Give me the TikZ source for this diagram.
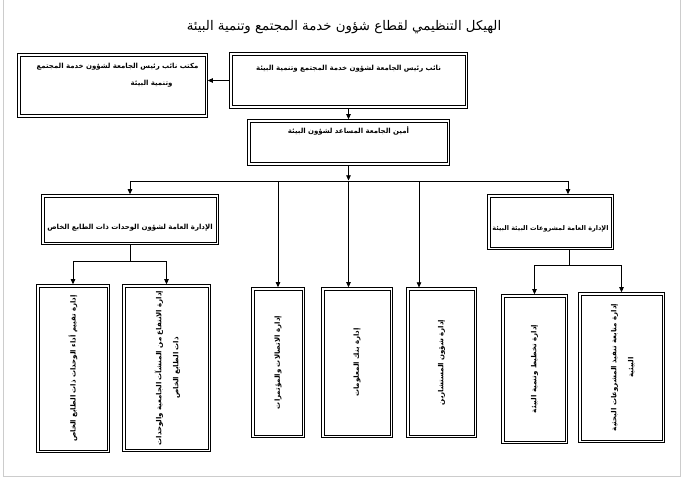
\documentclass[tikz,border=0pt]{standalone}
\usepackage{fontspec}
\usepackage{tikz}
\usetikzlibrary{arrows.meta, positioning, calc}
\newfontfamily\arabicfont[Script=Arabic]{DejaVu Sans}
\TeXXeTstate=1
\newcommand{\artext}[1]{\beginR #1\endR}

\begin{document}
\begin{tikzpicture}[
    x=1pt, y=-1pt,
    box/.style={rectangle, inner sep=0pt, align=center, font=\arabicfont\bfseries\fontsize{7}{17}\selectfont},
    outerline/.style={draw=black, line width=1.2pt},
    innerline/.style={draw=black, line width=0.6pt},
    arrow/.style={->, >={Triangle[length=5pt, width=4.5pt]}, draw=black, line width=0.6pt, shorten >=0.6pt},
    link/.style={draw=black, line width=0.6pt}
]
    \useasboundingbox (0,0) rectangle (684,478);
    \draw [black!20, line width=1pt] (3,-5) rectangle (680,476);

    % Title
    \node (title) at (344,27) {\arabicfont\fontsize{13.3}{16}\selectfont\artext{الهيكل التنظيمي لقطاع شؤون خدمة المجتمع وتنمية البيئة}};

    % Nodes
    \node (vp) [box, minimum width=237, text height=18, text depth=37, text width=230] at (348.5,80.5) {\artext{نائب رئيس الجامعة لشؤون خدمة المجتمع وتنمية البيئة}};

    \node (office) [box, minimum width=189, text height=15, text depth=48, align=right, text width=172] at (112.5,85.5) {\artext{مكتب نائب رئيس الجامعة لشؤون خدمة المجتمع}\\ \artext{وتنمية البيئة}\rule{26pt}{0pt}};

    \node (asst) [box, minimum width=201, text height=14, text depth=31, text width=195] at (348.5,142.5) {\artext{أمين الجامعة المساعد لشؤون البيئة}};

    \node (gl) [box, minimum width=176, text height=34, text depth=15, text width=170] at (130,219.5) {\artext{الإدارة العامة لشؤون الوحدات ذات الطابع الخاص}};

    \node (gr) [box, minimum width=125, minimum height=54, text height=35, text depth=19, font=\arabicfont\bfseries\fontsize{6.5}{17}\selectfont] at (550.5,222) {\artext{الإدارة العامة لمشروعات البيئة البيئة}};

    \node (b1) [box, minimum width=72, minimum height=167] at (73,368.5) {\rotatebox{90}{\artext{إدارة تقييم أداء الوحدات ذات الطابع الخاص}}};

    \node (b2) [box, minimum width=87, minimum height=166] at (166.5,368) {\rotatebox{90}{\begin{tabular}{@{}c@{}}\artext{إدارة الانتفاع من المنشآت الجامعية والوحدات}\\ \artext{ذات الطابع الخاص}\end{tabular}}};

    \node (b3) [box, minimum width=52, minimum height=149] at (278,362.5) {\rotatebox{90}{\artext{إدارة الاتصالات والمؤتمرات}}};

    \node (b4) [box, minimum width=70, minimum height=149] at (357,362.5) {\rotatebox{90}{\artext{إدارة بنك المعلومات}}};

    \node (b5) [box, minimum width=69, minimum height=149] at (441.5,362.5) {\rotatebox{90}{\artext{إدارة شؤون المستشارين}}};

    \node (b6) [box, minimum width=65, minimum height=148] at (534.5,369) {\rotatebox{90}{\artext{إدارة تخطيط وتنمية البيئة}}};

    \node (b7) [box, minimum width=85, minimum height=149] at (621.5,367.5) {\rotatebox{90}{\begin{tabular}{@{}c@{}}\artext{إدارة متابعة تنفيذ المشروعات البحثية}\\ \artext{البيئية}\end{tabular}}};

    % Double frames
    \foreach \n in {vp, office, asst, gl, gr, b1, b2, b3, b4, b5, b6, b7} {
        \draw [outerline] (\n.south west) rectangle (\n.north east);
        \draw [innerline] ($(\n.south west)+(2.4,-2.4)$) rectangle ($(\n.north east)+(-2.4,2.4)$);
    }

    % Junctions
    \coordinate (hub) at (348.5,181);
    \coordinate (busL) at (130,181);
    \coordinate (busR) at (568,181);
    \coordinate (subL) at (130,261);
    \coordinate (subR) at (569,265);

    % Flows
    \draw [arrow] (vp.west) -- (vp.west -| office.east);
    \draw [arrow] (vp) -- (asst);
    \draw [arrow] (asst) -- (hub);
    \draw [link] (busL) -- (busR);
    \draw [arrow] (busL) -- (gl);
    \draw [arrow] (busR) -- (busR |- gr.north);
    \draw [arrow] (b3.north |- hub) -- (b3);
    \draw [arrow] (hub) -- (hub |- b4.north);
    \draw [arrow] (419,181) -- (419,288);

    \draw [link] (gl) -- (subL);
    \draw [link] (b1.north |- subL) -- (b2.north |- subL);
    \draw [arrow] (b1.north |- subL) -- (b1);
    \draw [arrow] (b2.north |- subL) -- (b2);

    \draw [link] (subR |- gr.south) -- (subR);
    \draw [link] (b6.north |- subR) -- (b7.north |- subR);
    \draw [arrow] (b6.north |- subR) -- (b6);
    \draw [arrow] (b7.north |- subR) -- (b7);

\end{tikzpicture}
\end{document}
